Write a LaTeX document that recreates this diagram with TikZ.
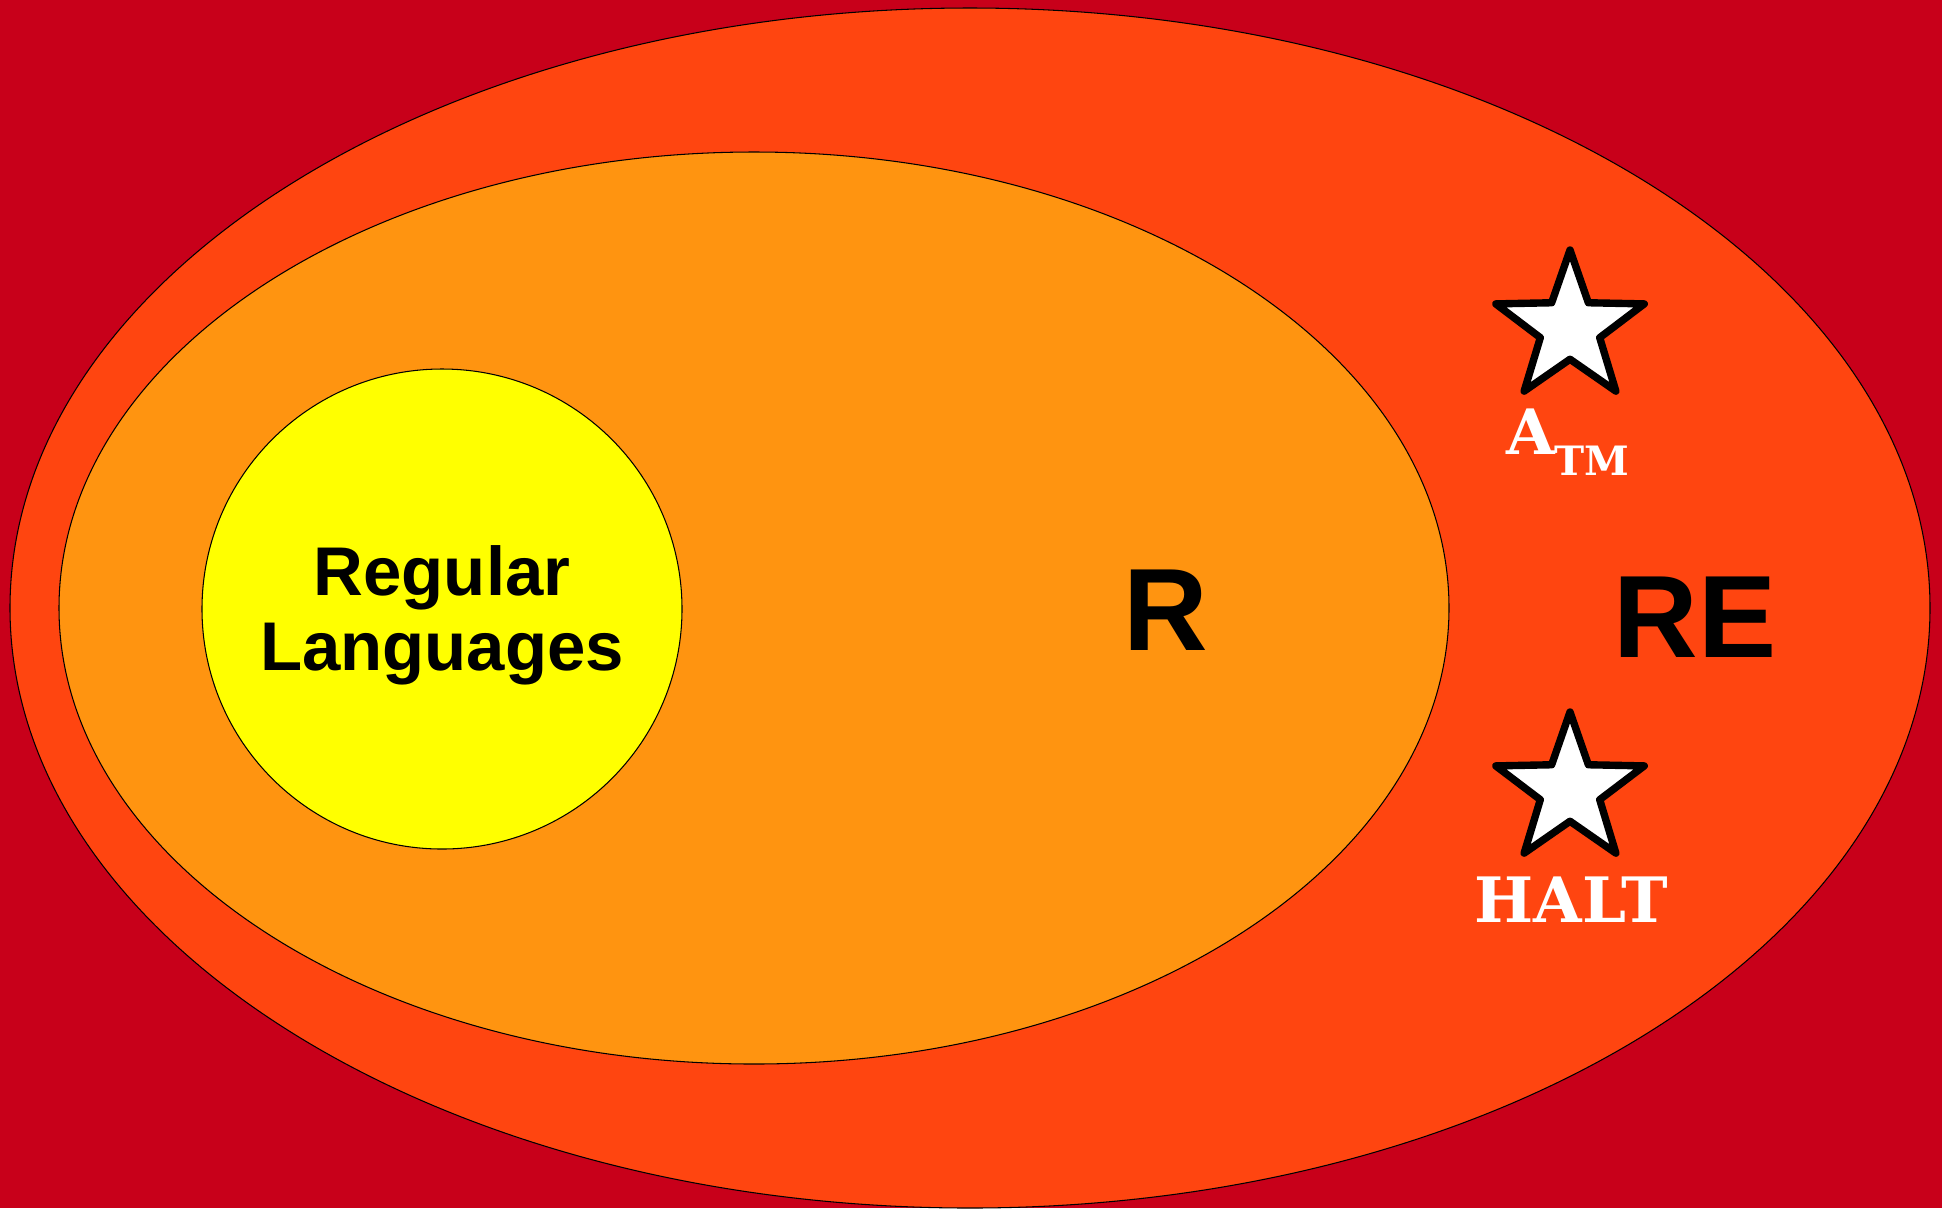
\documentclass[tikz,border=0pt]{standalone}
\usepackage{fontspec}
\newfontfamily\labelfont{Liberation Sans}
\newfontfamily\probfont{DejaVu Serif}
\usetikzlibrary{shapes.geometric}

\definecolor{bgred}{RGB}{200,0,26}
\definecolor{reorange}{RGB}{255,69,16}
\definecolor{rorange}{RGB}{255,148,16}
\definecolor{regyellow}{RGB}{255,255,0}

\tikzset{
  set/.style={draw=black, line width=0.3pt},
  classlabel/.style={inner sep=0pt, font=\labelfont\bfseries\fontsize{33.3}{40}\selectfont},
  problem/.style={star, star points=5, star point ratio=2.5, minimum size=1.56cm, inner sep=0pt,
    draw=black, fill=white, line width=2.1pt, line join=round},
  problabel/.style={inner sep=0pt, text=white, font=\probfont\bfseries\fontsize{17.8}{20}\selectfont}
}

\begin{document}
\begin{tikzpicture}[x=0.01cm, y=-0.01cm]
  % sfondo
  \fill[bgred] (0,0) rectangle (1942,1208);
  \useasboundingbox (0,0) rectangle (1942,1208);

  % insiemi
  \draw[set, fill=reorange] (970,608) ellipse [x radius=960, y radius=600];
  \draw[set, fill=rorange] (754,608) ellipse [x radius=695, y radius=456];
  \draw[set, fill=regyellow] (442,609) circle [radius=240];

  % etichette
  \node[classlabel, align=center, font=\labelfont\bfseries\fontsize{19.6}{21.3}\selectfont] (reg) at (442,615) {Regular\\Languages};
  \node[classlabel] (r) at (1166,610) {R};
  \node[classlabel] (re) at (1695,617) {RE};

  % problemi
  \node[problem] (atm) at (1570,328) {};
  \node[problem] (halt) at (1570,790) {};
  \node[problabel] (atmlabel) at (1568,442) {A\lower6pt\hbox{\fontsize{11.5}{13}\selectfont TM}};
  \node[problabel] (haltlabel) at (1571,900) {HALT};
\end{tikzpicture}
\end{document}
